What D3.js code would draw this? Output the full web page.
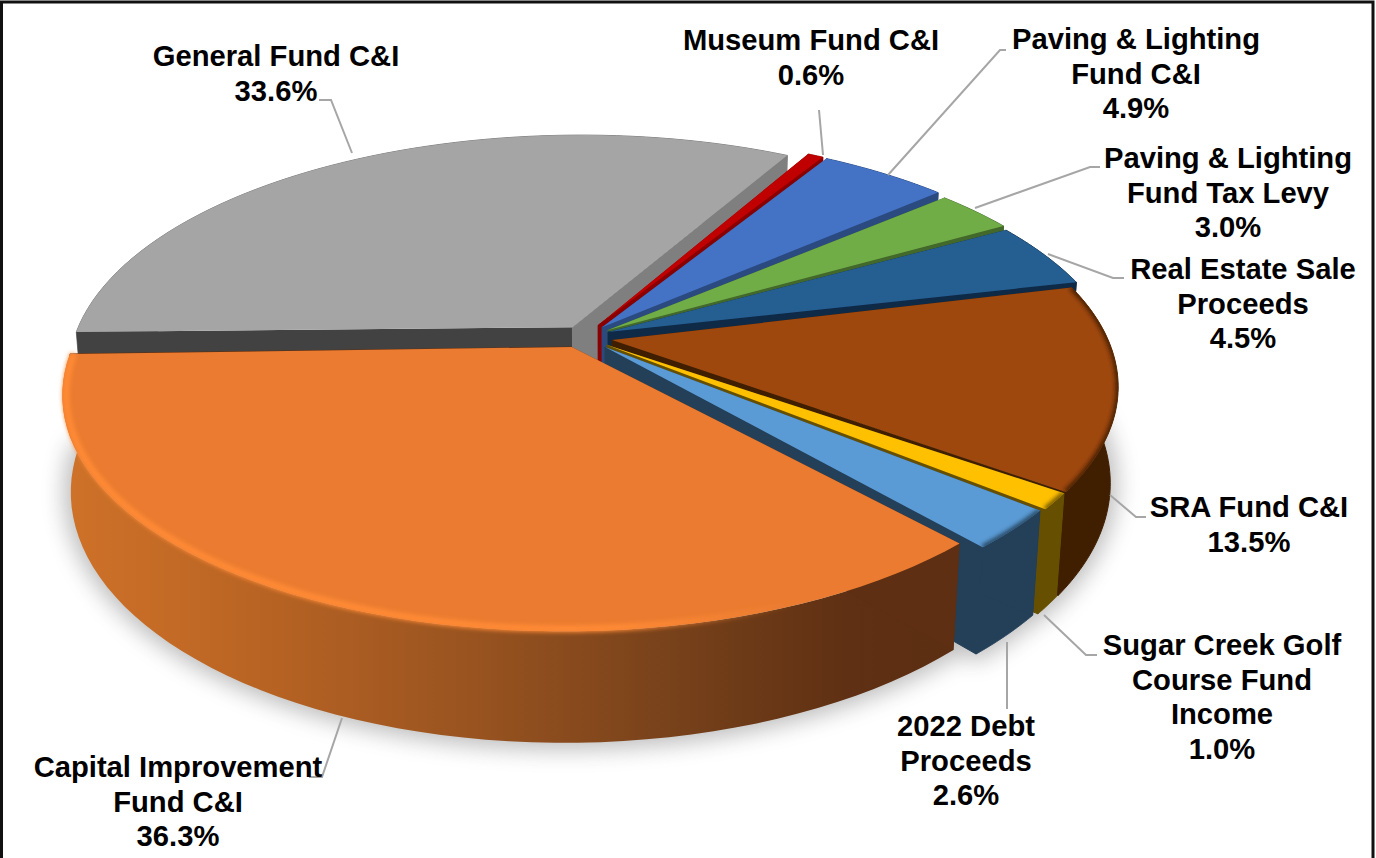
<!DOCTYPE html>
<html>
<head>
<meta charset="utf-8">
<script src="https://cdn.jsdelivr.net/npm/d3@7"></script>
<style>
  html, body { margin: 0; padding: 0; background: #fff; }
  svg { display: block; }
  text { font-family: "Liberation Sans", Arial, sans-serif; font-weight: 700; fill: #000; }
</style>
</head>
<body>
<svg id="chart" width="1376" height="858"></svg>
<script>
// Funding sources, clockwise from the back of the pie.
const categories = [
  "Museum Fund C&I",
  "Paving & Lighting Fund C&I",
  "Paving & Lighting Fund Tax Levy",
  "Real Estate Sale Proceeds",
  "SRA Fund C&I",
  "Sugar Creek Golf Course Fund Income",
  "2022 Debt Proceeds",
  "Capital Improvement Fund C&I",
  "General Fund C&I"
];
const shares = [0.6, 4.9, 3.0, 4.5, 13.5, 1.0, 2.6, 36.3, 33.6];
const valueLabels = ["0.6%", "4.9%", "3.0%", "4.5%", "13.5%", "1.0%", "2.6%", "36.3%", "33.6%"];

// Wrapped label text per category.
const labelLines = [
  ["Museum Fund C&I"],
  ["Paving & Lighting", "Fund C&I"],
  ["Paving & Lighting", "Fund Tax Levy"],
  ["Real Estate Sale", "Proceeds"],
  ["SRA Fund C&I"],
  ["Sugar Creek Golf", "Course Fund", "Income"],
  ["2022 Debt", "Proceeds"],
  ["Capital Improvement", "Fund C&I"],
  ["General Fund C&I"]
];

// Slice styling.
const topColors  = ["#c00000", "#4472c4", "#70ad47", "#255e91", "#9e480e", "#ffc000", "#5b9bd5", "#ea7b30", "#a5a5a5"];
const wallColors = ["#8a0000", "#2b4a80", "#43682b", "#0f2a47", "#401f00", "#665000", "#243f58", "#5e2f12", "#7f7f7f"];
const startWallColors = ["#8a0000", "#2b4a80", "#43682b", "#0f2a47", "#401f00", "#665000", "#243f58", "#5e2f12", "#424242"];

// Pull-out of each slice's tip from the pie's centre, in pixels.
const apexOffsets = [[-9,-17],[-5,-15],[1,-12],[1,-10],[5,-2],[0,3],[-2,5],[-35,5],[-35,-15]];
// Extra shift of each slice's outer arc relative to its tip, and its radius factor.
const rimShifts = [[2,-2],[2,-2],[3,1],[4,4],[0,1],[3,-3],[0,-4],[0,-1],[4,-3]];
const rimScales = [1.02, 1.02, 1.015, 1.015, 1, 1, 1, 1, 1.015];

// Label anchor (centre x, first baseline) and leader polyline per category.
const labelAnchors = [[811,50],[1136,49],[1228,168],[1243,279],[1249,517],[1222,655],[966,736],[178,777],[276,66]];
const leaders = [
  [[823,155],[819,110]],
  [[888,175],[1000,50],[1006,50]],
  [[975,208],[1090,167],[1100,167]],
  [[1048,254],[1113,278],[1124,278]],
  [[1110,495],[1136,517],[1146,517]],
  [[1044,615],[1086,655],[1097,655]],
  [[1007,642],[1007,709]],
  [[342,718],[322,777],[309,777]],
  [[352,153],[331,100],[319,100]]
];

const LINE_HEIGHT = 34.6, FONT_SIZE = 29.2;

// Camera set-up for the tilted pie.
const cx = 607, cy = 342, R = 497, sinT = 0.4605, cosT = 0.888, D = 4.63, H = 0.217, Z_DEPTH = 0.7;
const START = 29 * Math.PI / 180;

// Lens correction for the slices on the near right, degrees of sweep by pie angle.
const sweepCorrection = d3.scaleLinear().domain([75.6, 124.6, 128.2, 137.6]).range([0, 1.5, 1.9, 2.2]).clamp(true);
const correctedSlices = new Set([4, 5, 6]);

function project(X, Y, Z) {
  const p = D / (D + Y * cosT - Z * sinT * Z_DEPTH);
  return [cx + R * X * p, cy - R * (Y * sinT + Z * cosT) * p];
}

const svg = d3.select("#chart");
const defs = svg.append("defs");
const line = d3.line();

const blur = (id, s) => defs.append("filter").attr("id", id)
  .attr("x", "-20%").attr("y", "-20%").attr("width", "140%").attr("height", "140%")
  .append("feGaussianBlur").attr("stdDeviation", s);
blur("soft", 2.2);
blur("shadow", 11);

// Orange wall shading runs left to right across the pie.
const wallGrad = defs.append("linearGradient").attr("id", "orangeWall")
  .attr("gradientUnits", "userSpaceOnUse").attr("x1", 62).attr("x2", 955).attr("y1", 0).attr("y2", 0);
[[0, "#cf7229"], [0.2, "#bb6524"], [0.45, "#9a5420"], [0.7, "#75401a"], [0.88, "#5f3013"], [1, "#5c2e12"]]
  .forEach(([o, c]) => wallGrad.append("stop").attr("offset", o).attr("stop-color", c));

// Rim highlight of the orange slice fades out towards its right corner.
const rimGrad = defs.append("linearGradient").attr("id", "orangeRim")
  .attr("gradientUnits", "userSpaceOnUse").attr("x1", 62).attr("x2", 955).attr("y1", 0).attr("y2", 0);
[[0, "#ff8a35", 1], [0.62, "#ff8a35", 1], [0.82, "#ff8a35", 0], [1, "#ff8a35", 0]]
  .forEach(([o, c, a]) => rimGrad.append("stop").attr("offset", o).attr("stop-color", c).attr("stop-opacity", a));

const pie = d3.pie().sort(null).startAngle(START).endAngle(START + 2 * Math.PI);
const arcs = pie(shares);

const geometry = arcs.map((a, i) => {
  const ax = apexOffsets[i][0] / R, ay = -apexOffsets[i][1] / (R * sinT);
  const rx = ax + rimShifts[i][0] / R, ry = ay - rimShifts[i][1] / (R * sinT);
  const k = rimScales[i];
  const warp = t => correctedSlices.has(i) ? t + sweepCorrection(t * 180 / Math.PI) * Math.PI / 180 : t;
  const rim = (t, z, f = 1) => project(rx + f * k * Math.sin(warp(t)), ry + f * k * Math.cos(warp(t)), z);
  const thetas = d3.range(0, 61).map(n => a.startAngle + (a.endAngle - a.startAngle) * n / 60);
  const rimTop = thetas.map(t => rim(t, 0));
  const rimInset = thetas.map(t => rim(t, 0, 0.993));
  const rimBottom = thetas.map(t => rim(t, -H));
  const apexTop = project(ax, ay, 0), apexBottom = project(ax, ay, -H);
  return {
    i, rimTop, rimInset, rimBottom, apexTop, apexBottom,
    top: [apexTop, ...rimTop],
    bottom: [apexBottom, ...rimBottom],
    outer: [...rimTop, ...rimBottom.slice().reverse()],
    startWall: [apexTop, rimTop[0], rimBottom[0], apexBottom],
    endWall: [apexTop, rimTop[60], rimBottom[60], apexBottom]
  };
});

const closed = pts => line(pts) + "Z";

// Soft drop shadow beneath the pie.
svg.append("g").attr("filter", "url(#shadow)").attr("opacity", 0.38)
  .selectAll("path").data(geometry.filter(g => g.i >= 4 && g.i <= 7)).join("path")
  .attr("d", g => closed(g.bottom)).attr("fill", "#555").attr("stroke", "#555").attr("stroke-width", 14);

// Back-to-front: the grey slice first, the orange slice last.
const paintOrder = [8, 0, 1, 2, 3, 4, 5, 6, 7];
const pieGroup = svg.append("g");

paintOrder.forEach(idx => {
  const g = geometry[idx];
  const grp = pieGroup.append("g");
  const wallFill = idx === 7 ? "url(#orangeWall)" : wallColors[idx];

  grp.append("path").attr("d", closed(g.outer)).attr("fill", wallFill)
    .attr("stroke", wallFill).attr("stroke-width", idx === 7 ? 0 : 1);
  grp.append("path").attr("d", closed(g.startWall)).attr("fill", startWallColors[idx]);
  grp.append("path").attr("d", closed(g.endWall)).attr("fill", wallColors[idx])
    .attr("stroke", wallColors[idx]).attr("stroke-width", 1);
  grp.append("path").attr("d", closed(g.top)).attr("fill", topColors[idx]);

  const clipId = "top-" + idx;
  defs.append("clipPath").attr("id", clipId).append("path").attr("d", closed(g.top));

  if (idx === 7) {
    // Highlight along the rim, soft on both sides.
    grp.append("path").attr("d", line(g.rimInset)).attr("fill", "none")
      .attr("stroke", "url(#orangeRim)").attr("stroke-width", 7).attr("filter", "url(#soft)");
  } else if (idx >= 4 && idx <= 6) {
    // Bevel: the face darkens softly into the rim.
    grp.append("g").attr("clip-path", `url(#${clipId})`)
      .append("path").attr("d", line(g.rimTop)).attr("fill", "none")
      .attr("stroke", wallColors[idx]).attr("stroke-width", 5).attr("filter", "url(#soft)");
  }
});

// Leader lines.
svg.append("g").selectAll("path").data(leaders).join("path")
  .attr("d", d => line(d)).attr("fill", "none")
  .attr("stroke", "#a6a6a6").attr("stroke-width", 2);

// Category and value labels.
const labels = svg.append("g").selectAll("text").data(categories).join("text")
  .attr("text-anchor", "middle").attr("font-size", FONT_SIZE)
  .attr("x", (d, i) => labelAnchors[i][0]).attr("y", (d, i) => labelAnchors[i][1]);
labels.each(function (d, i) {
  const lines = [...labelLines[i], valueLabels[i]];
  d3.select(this).selectAll("tspan").data(lines).join("tspan")
    .attr("x", labelAnchors[i][0])
    .attr("y", (l, k) => labelAnchors[i][1] + k * LINE_HEIGHT)
    .text(l => l);
});

// Frame around the chart: top, left and right edges.
svg.append("path").attr("d", line([[1.5, 858], [1.5, 2], [1373, 2], [1373, 858]]))
  .attr("fill", "none").attr("stroke", "#111").attr("stroke-width", 3);
</script>
</body>
</html>
